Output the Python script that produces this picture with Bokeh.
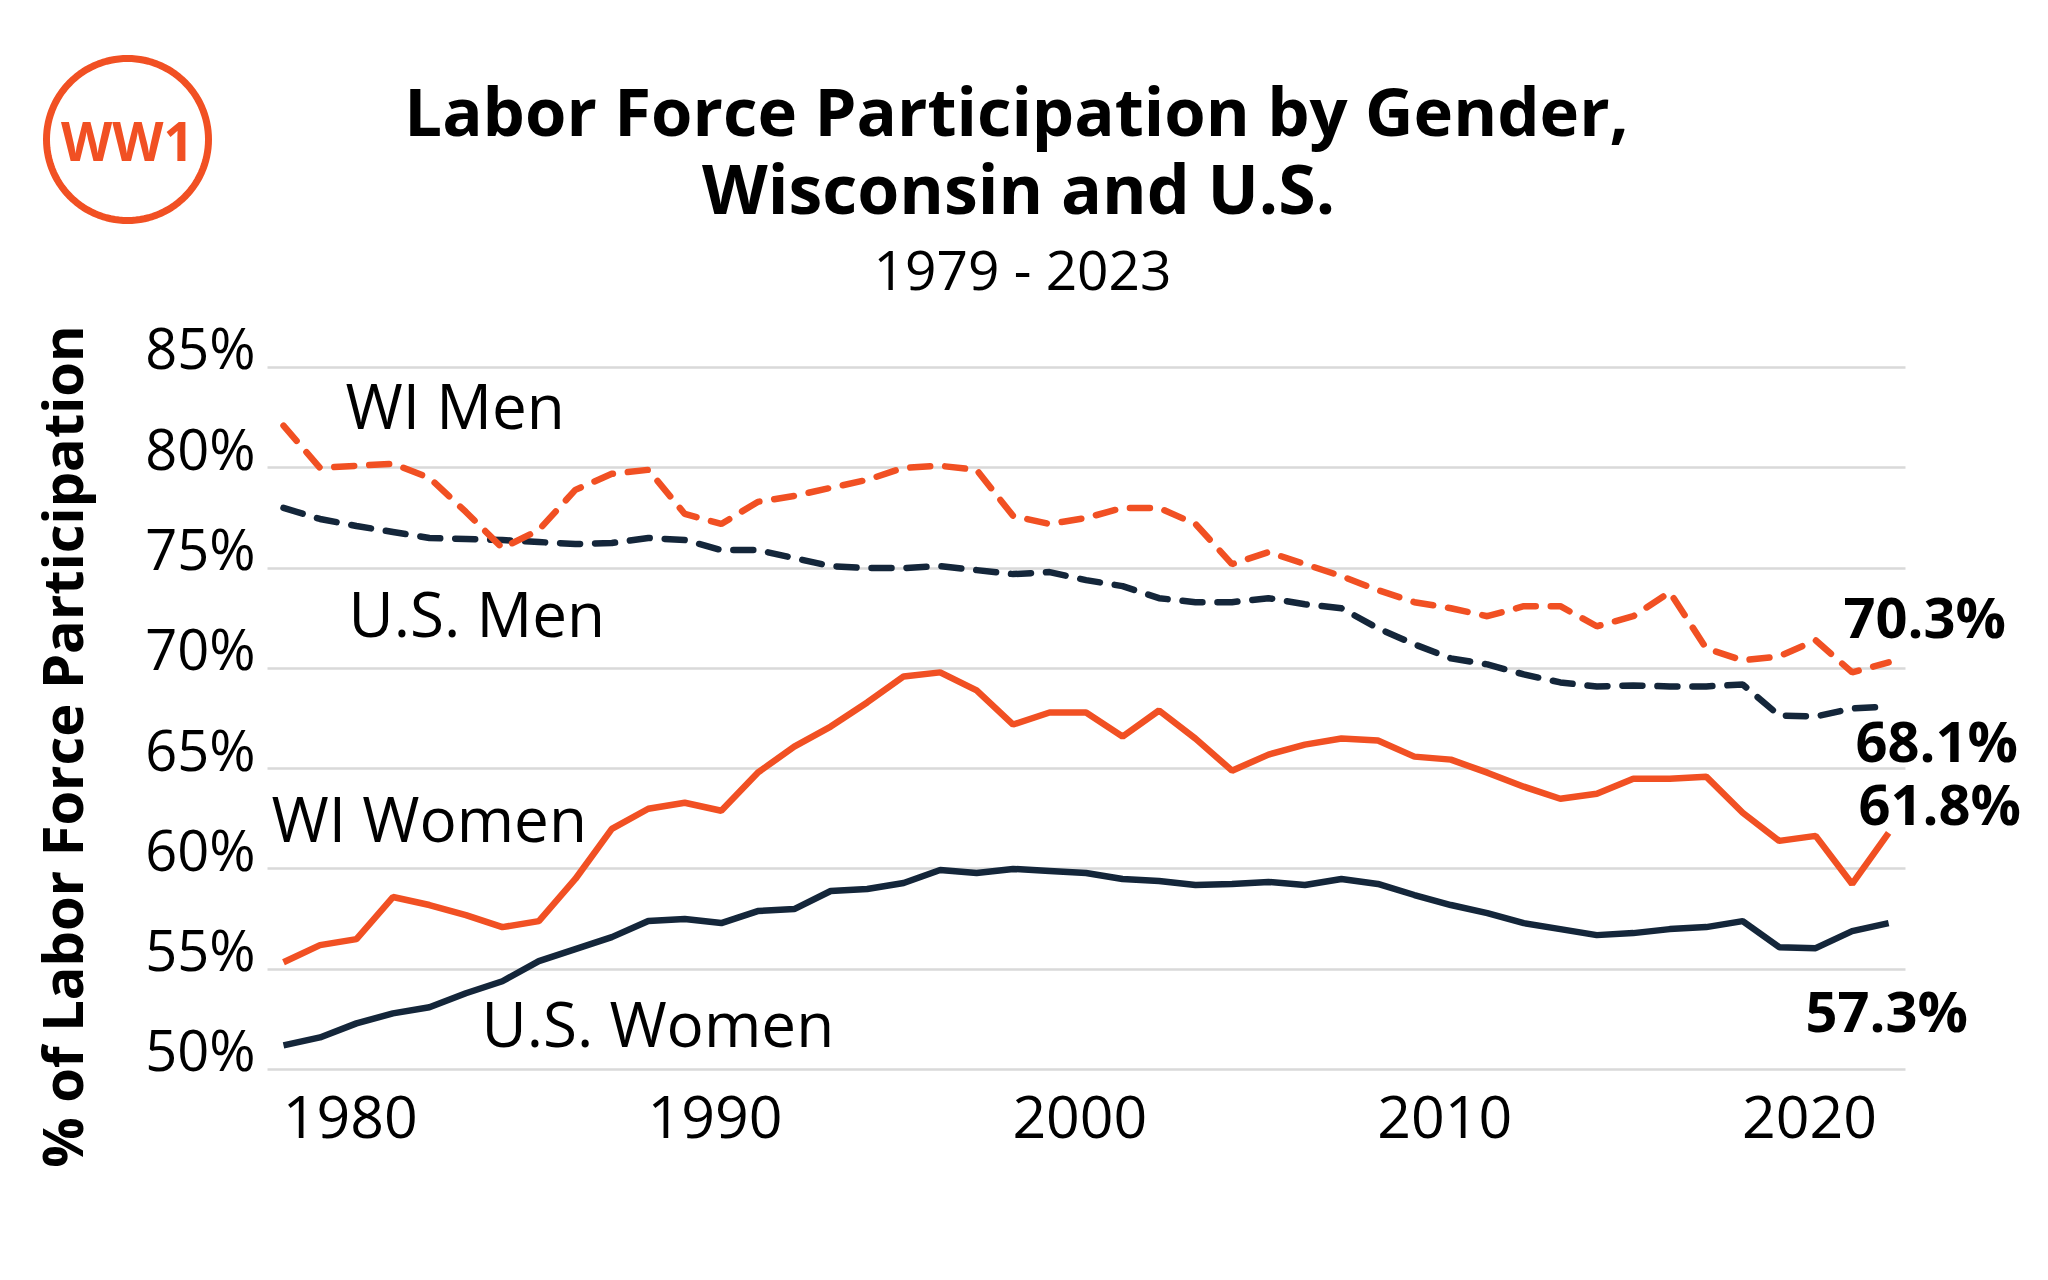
import math
from bokeh.plotting import figure
from bokeh.models import Label, FixedTicker, PolyAnnotation, Range1d
from bokeh.embed import file_html
from bokeh.resources import INLINE

# ---------------- data ----------------
years = list(range(1979, 2024))

wi_men = [82.1, 80.0, 80.1, 80.2, 79.5, 77.8, 76.0, 76.9, 78.9, 79.7,
          79.9, 77.7, 77.2, 78.3, 78.6, 79.0, 79.4, 80.0, 80.1, 79.9,
          77.6, 77.2, 77.5, 78.0, 78.0, 77.2, 75.2, 75.8, 75.2, 74.6,
          73.9, 73.3, 73.0, 72.6, 73.1, 73.1, 72.1, 72.6, 73.8, 71.0,
          70.4, 70.6, 71.4, 69.8, 70.3]

us_men = [78.0, 77.45, 77.1, 76.8, 76.5, 76.45, 76.4, 76.3, 76.2, 76.25,
          76.5, 76.4, 75.9, 75.9, 75.5, 75.1, 75.0, 75.0, 75.1, 74.9,
          74.7, 74.8, 74.4, 74.1, 73.5, 73.3, 73.3, 73.5, 73.2, 73.0,
          72.0, 71.2, 70.5, 70.2, 69.7, 69.3, 69.1, 69.15, 69.1, 69.1,
          69.2, 67.65, 67.6, 68.0, 68.1]

wi_women = [55.35, 56.2, 56.5, 58.6, 58.2, 57.7, 57.1, 57.4, 59.5, 62.0,
            63.0, 63.3, 62.9, 64.8, 66.1, 67.1, 68.3, 69.6, 69.8, 68.9,
            67.2, 67.8, 67.8, 66.6, 67.9, 66.5, 64.9, 65.7, 66.2, 66.5,
            66.4, 65.6, 65.45, 64.8, 64.1, 63.5, 63.75, 64.5, 64.5, 64.6,
            62.8, 61.4, 61.65, 59.25, 61.8]

us_women = [51.2, 51.6, 52.3, 52.8, 53.1, 53.8, 54.4, 55.4, 56.0, 56.6,
            57.4, 57.5, 57.3, 57.9, 58.0, 58.9, 59.0, 59.3, 59.95, 59.8,
            60.0, 59.9, 59.8, 59.5, 59.4, 59.2, 59.25, 59.35, 59.2, 59.5,
            59.25, 58.7, 58.2, 57.8, 57.3, 57.0, 56.7, 56.8, 57.0, 57.1,
            57.4, 56.1, 56.05, 56.9, 57.3]

y_ticks = [50, 55, 60, 65, 70, 75, 80, 85]
y_tick_labels = ["50%", "55%", "60%", "65%", "70%", "75%", "80%", "85%"]
x_tick_years = [1980, 1990, 2000, 2010, 2020]
x_tick_labels = ["1980", "1990", "2000", "2010", "2020"]

series_names = ["WI Men", "U.S. Men", "WI Women", "U.S. Women"]
end_labels = ["70.3%", "68.1%", "61.8%", "57.3%"]

title1 = "Labor Force Participation by Gender,"
title2 = "Wisconsin and U.S."
subtitle = "1979 - 2023"
y_title = "% of Labor Force Participation"
logo_text = "WW1"

# ---------------- styling / layout ----------------
ORANGE = "#F15023"
NAVY = "#14263A"
GRID = "#D9D9D9"
FONT = "Open Sans"
LW = 6.5

W, H = 2048, 1280
PPX = 36.48      # px per year
PPY = 20.056     # px per percentage point
AX_X, AX_PX = 1979, 283    # anchor: year 1979 at canvas px 283
AX_Y, AX_PY = 50, 1069     # anchor: 50% at canvas py 1069
BASE_K = 0.36              # baseline correction (fraction of font size)


def cx(px):   # canvas px -> data x
    return AX_X + (px - AX_PX) / PPX


def cy(py):   # canvas py -> data y
    return AX_Y + (AX_PY - py) / PPY


GRID_X0, GRID_X1 = cx(267), cx(1905)

p = figure(width=W, height=H,
           x_range=Range1d(cx(0), cx(W)), y_range=Range1d(cy(H), cy(0)),
           output_backend="svg", toolbar_location=None,
           x_axis_location=None, y_axis_location=None,
           min_border=0, min_border_left=0, min_border_right=0,
           min_border_top=0, min_border_bottom=0)
p.outline_line_color = None
p.background_fill_color = "white"
p.border_fill_color = "white"
p.xgrid.visible = False

# horizontal grid lines, limited to the plotting area
grid = p.ygrid[0]
if "cross_bounds" in grid.properties():
    grid.ticker = FixedTicker(ticks=y_ticks)
    grid.cross_bounds = (GRID_X0, GRID_X1)
    grid.grid_line_color = GRID
    grid.grid_line_width = 2.5
else:
    grid.visible = False
    p.segment(x0=[GRID_X0] * len(y_ticks), y0=y_ticks, x1=[GRID_X1] * len(y_ticks), y1=y_ticks,
              line_color=GRID, line_width=2.5)

# lines
p.line(years, us_men, line_color=NAVY, line_width=LW, line_dash="20 15", line_cap="round")
p.line(years, wi_men, line_color=ORANGE, line_width=LW, line_dash="20 15", line_cap="round")
p.line(years, us_women, line_color=NAVY, line_width=LW)
p.line(years, wi_women, line_color=ORANGE, line_width=LW)


def lab(x, base_py, text, size, bold=False, align="left", color="black", data_y=None, **kw):
    """Label whose alphabetic baseline sits at canvas row base_py (or data y)."""
    shift = BASE_K * size
    y = cy(base_py - shift) if data_y is None else data_y + shift / PPY
    p.add_layout(Label(x=x, y=y, text=text, text_align=align, text_baseline="alphabetic",
                       text_font=FONT, text_font_size=f"{size}px",
                       text_font_style="bold" if bold else "normal",
                       text_color=color, **kw))


# y tick labels (sitting on the grid lines)
for v, t in zip(y_ticks, y_tick_labels):
    lab(cx(255), None, t, 56, align="right", data_y=v)

# x tick labels (centres sit slightly right of the year, as in the reference)
offs = 0.83
for yr, t in zip(x_tick_years, x_tick_labels):
    lab(yr + offs, 1138, t, 59, align="center")

# series labels
ser_pos = [(345, 427), (348, 635), (271, 840), (481, 1045)]
for t, (px, py) in zip(series_names, ser_pos):
    lab(cx(px), py, t, 62)

# end value labels
end_pos = [(1843, 636), (1855, 760), (1858, 823), (1805, 1030)]
for t, (px, py) in zip(end_labels, end_pos):
    lab(cx(px), py, t, 56, bold=True)

# titles
lab(cx(1016), 134, title1, 67, bold=True, align="center")
lab(cx(1018), 211, title2, 68, bold=True, align="center")
lab(cx(1022), 288, subtitle, 55, align="center")

# y axis title
p.add_layout(Label(x=cx(60), y=cy(746), text=y_title, angle=math.pi / 2, angle_units="rad",
                   text_align="center", text_baseline="middle",
                   text_font=FONT, text_font_size="56px", text_font_style="bold",
                   text_color="black"))

# logo
n = 120
lx, ly, lr = 127, 139, 81
xs = [cx(lx + lr * math.cos(2 * math.pi * k / n)) for k in range(n)]
ys = [cy(ly + lr * math.sin(2 * math.pi * k / n)) for k in range(n)]
p.add_layout(PolyAnnotation(xs=xs, ys=ys, fill_alpha=0, line_alpha=1.0,
                            line_color=ORANGE, line_width=7))
p.add_layout(Label(x=cx(127), y=cy(140), text=logo_text, text_align="center", text_baseline="middle",
                   text_font=FONT, text_font_size="53px", text_font_style="bold",
                   text_color=ORANGE))

open("out.html", "w").write(file_html(p, INLINE))
